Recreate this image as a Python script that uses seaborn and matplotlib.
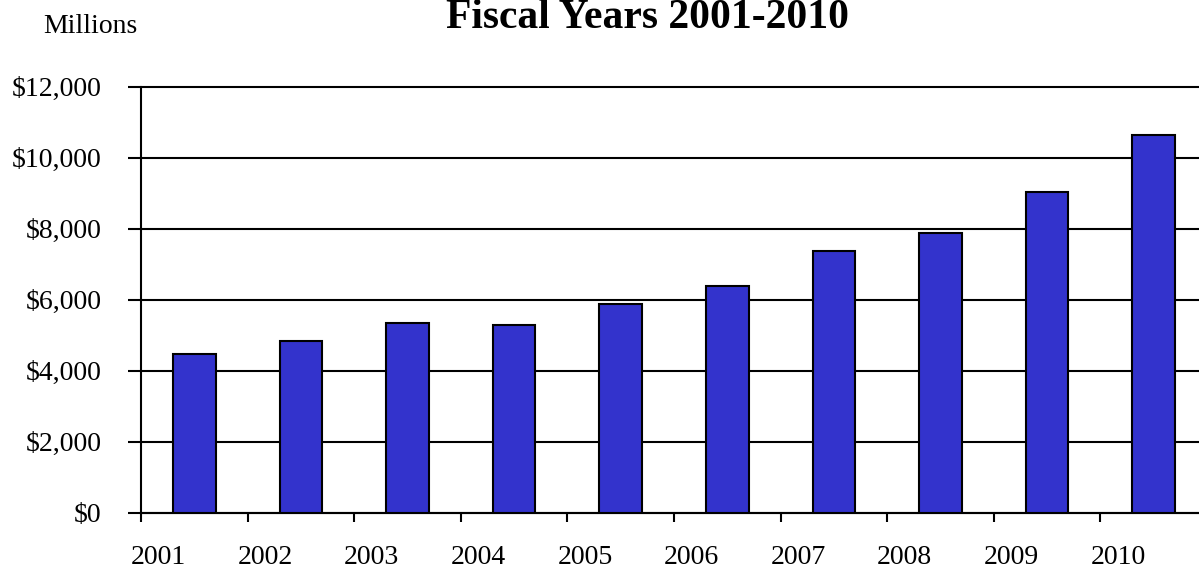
import matplotlib as mpl
import matplotlib.pyplot as plt
import numpy as np
import pandas as pd
import seaborn as sns
from matplotlib.ticker import FuncFormatter

# Values ($ millions)
years = ['2001', '2002', '2003', '2004', '2005', '2006', '2007', '2008', '2009', '2010']
amounts = [4470, 4830, 5340, 5290, 5870, 6400, 7360, 7870, 9030, 10650]
y_ticks = [0, 2000, 4000, 6000, 8000, 10000, 12000]

sns.set_style('white')
mpl.rcParams['font.family'] = ['Liberation Serif', 'DejaVu Serif']
mpl.rcParams['text.color'] = 'black'
mpl.rcParams['xtick.color'] = 'black'
mpl.rcParams['ytick.color'] = 'black'

df = pd.DataFrame({'year': years, 'amount': amounts})

fig = plt.figure(figsize=(11.99, 5.71), dpi=100)
# axes runs past the right edge, like the cropped original
ax = fig.add_axes([141 / 1199, 58.3 / 571, 1066 / 1199, 426 / 571])

ax.yaxis.grid(True, color='black', linewidth=1.5, zorder=0)
ax.set_axisbelow(True)

sns.barplot(data=df, x='year', y='amount', color='#3333CC', saturation=1,
            width=0.4, edgecolor='black', linewidth=1.5, ax=ax, zorder=3)

ax.set_xlim(-0.5, 9.5)
ax.set_ylim(0, 12000)
ax.set_yticks(y_ticks)
ax.yaxis.set_major_formatter(FuncFormatter(lambda v, p: f'${v:,.0f}'))

# tick marks sit between categories, year labels sit left of the bars
ax.set_xticks(np.arange(len(years)) - 0.5)
ax.set_xticklabels([])
ax.set_xticks(np.arange(len(years)) - 0.335, minor=True)
ax.set_xticklabels(years, minor=True)
ax.tick_params(axis='x', which='major', direction='out', length=6.5, width=1.5,
               bottom=True)
ax.tick_params(axis='x', which='minor', length=0, pad=23, labelsize=20)
ax.tick_params(axis='y', direction='out', length=9.5, width=1.5,
               left=True, pad=19, labelsize=20)

# keep the top gridline at full width (it acts as the top border)
for line in ax.get_ygridlines():
    line.set_clip_on(False)

for side in ['top', 'right']:
    ax.spines[side].set_visible(False)
for side in ['left', 'bottom']:
    ax.spines[side].set_color('black')
    ax.spines[side].set_linewidth(1.5)

ax.set_xlabel(None)
ax.set_ylabel(None)

fig.text(648 / 1199, 1 - 28 / 571, 'Fiscal Years 2001-2010', ha='center',
         va='baseline', fontsize=30, fontweight='bold')
fig.text(43 / 1199, 1 - 33 / 571, 'Millions', ha='left', va='baseline', fontsize=20)

fig.savefig('out.png', dpi=100)
